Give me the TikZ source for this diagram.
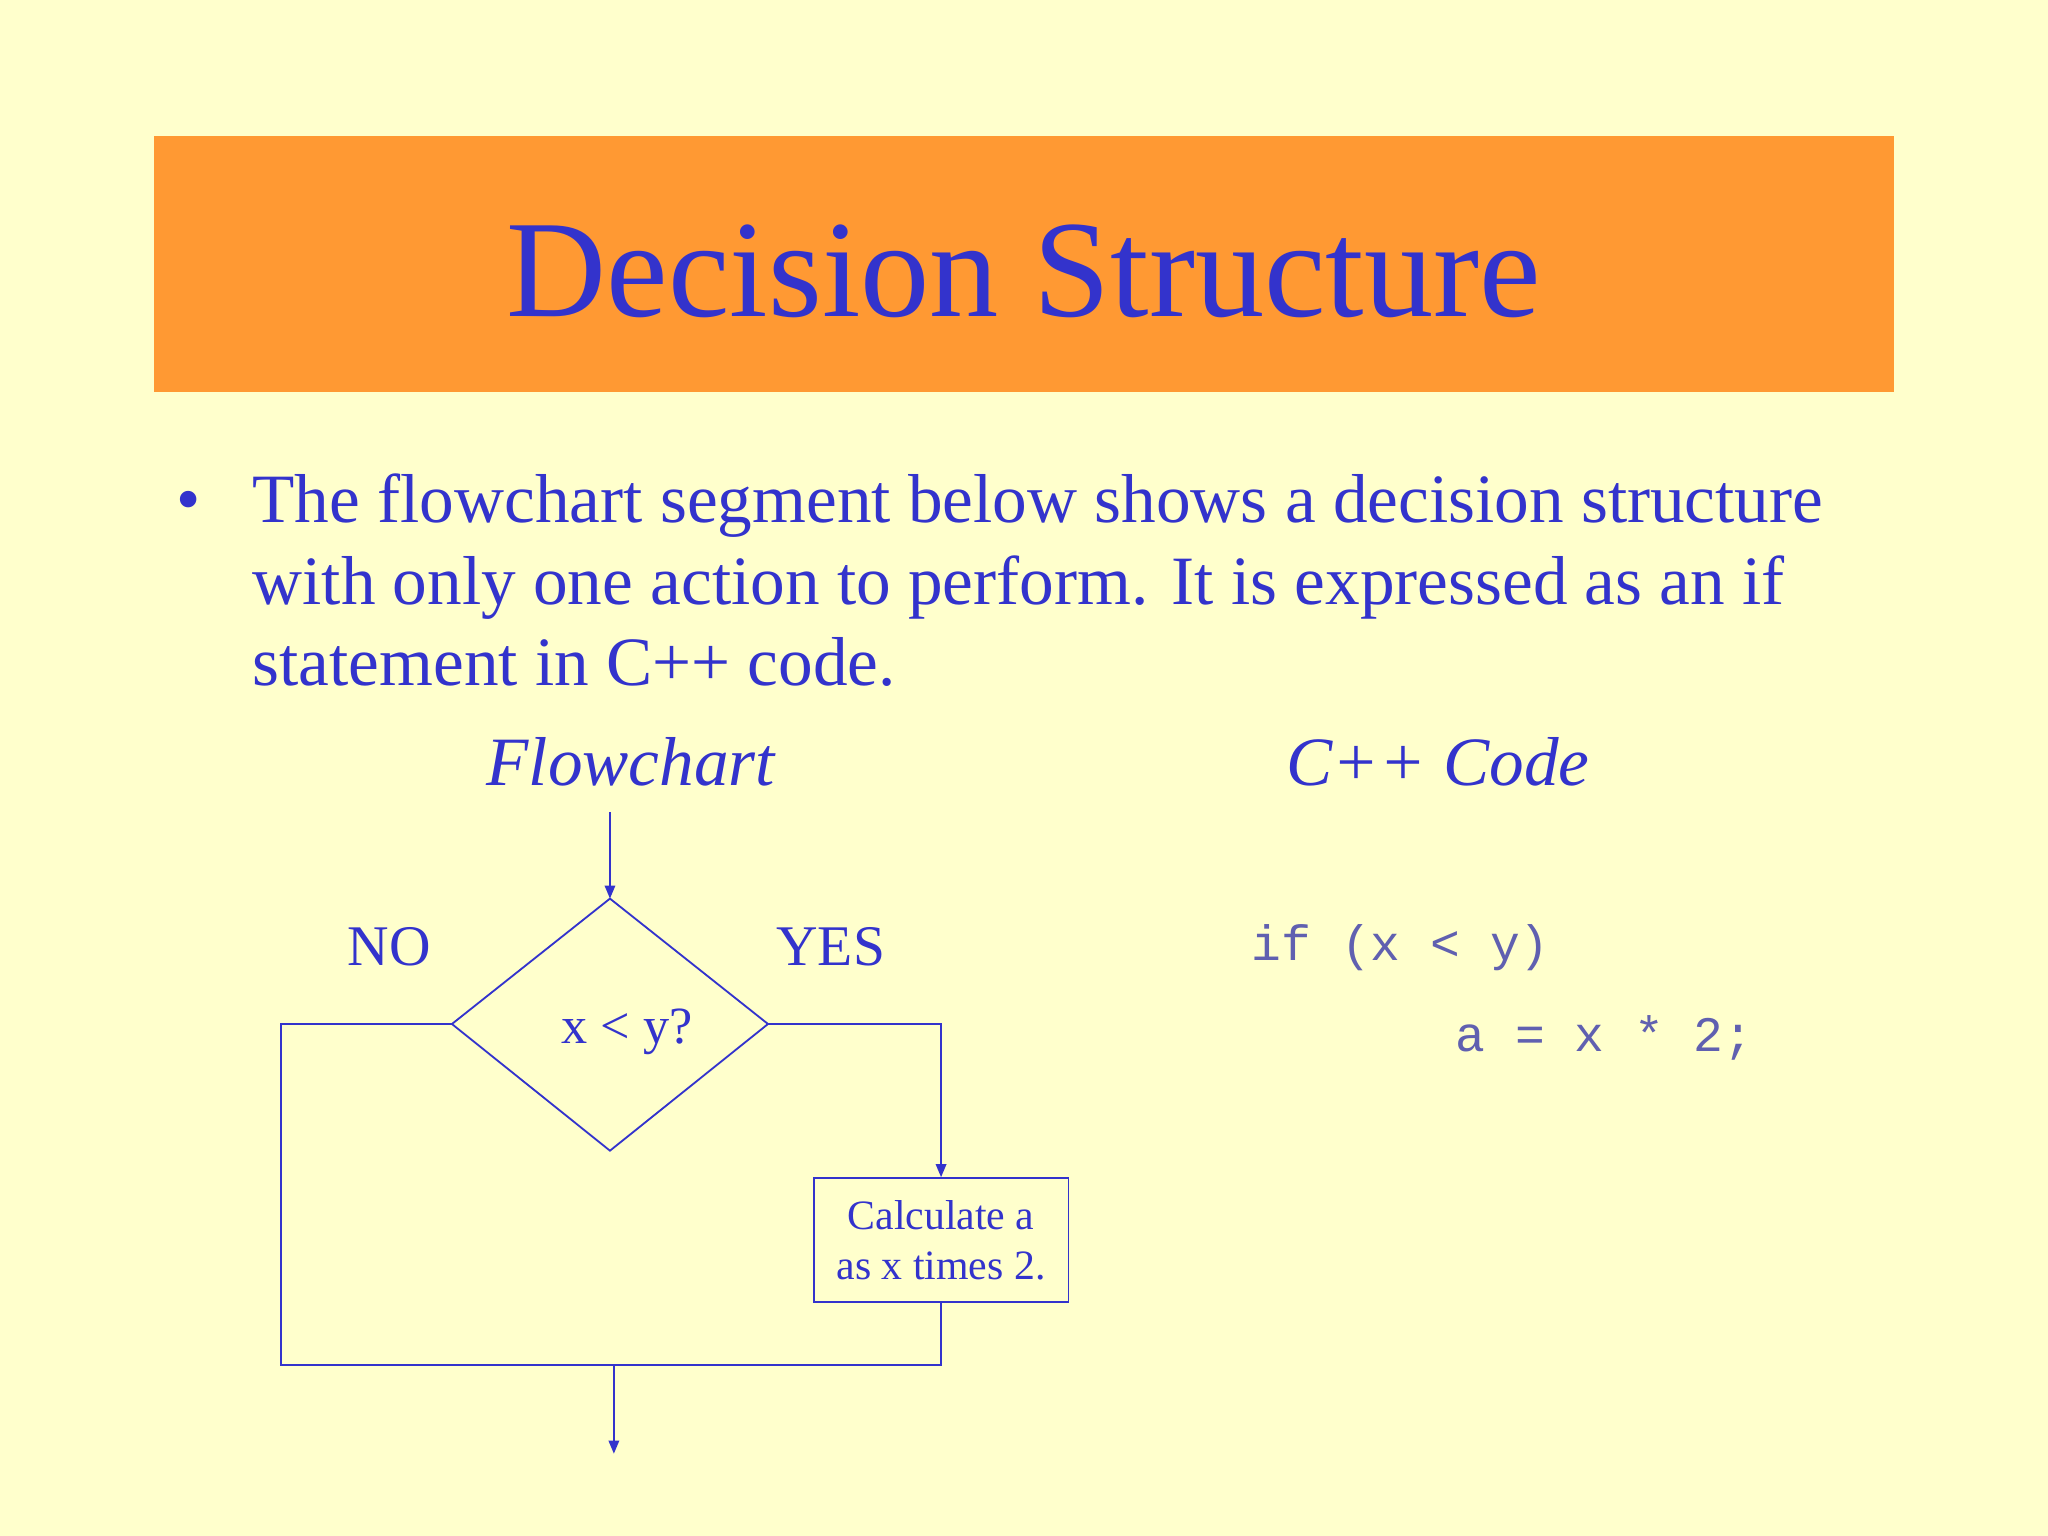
\documentclass[tikz,border=0pt]{standalone}
\usetikzlibrary{arrows.meta}
\usepackage{fontspec}
\setmainfont{Liberation Serif}
\setmonofont{Liberation Mono}
\definecolor{bg}{HTML}{FFFFCC}
\definecolor{hdr}{HTML}{FF9933}
\definecolor{ink}{HTML}{3333CC}
\definecolor{code}{HTML}{6060B0}
\begin{document}
\begin{tikzpicture}[x=0.5pt,y=-0.5pt,
  flow/.style={draw=ink,line width=0.7pt},
  arr/.style={flow,-{Triangle[length=5pt,width=4pt]}},
  body/.style={text=ink,font=\fontsize{26.5}{31}\selectfont,anchor=base west,inner sep=0},
  lbl/.style={text=ink,font=\fontsize{22}{26}\selectfont},
  cd/.style={text=code,font=\ttfamily\fontsize{19}{22}\selectfont,anchor=base west,inner sep=0}]
\fill[bg] (0,0) rectangle (1568,1176);
\useasboundingbox (0,0) rectangle (1568,1176);
\fill[hdr] (118,104) rectangle (1450,300);
\node[text=ink,font=\fontsize{53}{60}\selectfont] (title) at (784,208) {Decision Structure};
\node[body] (bul) at (135,400) {•};
\node[body] (l1) at (193,400) {The flowchart segment below shows a decision structure};
\node[body] (l2) at (193,463) {with only one action to perform. It is expressed as an if};
\node[body] (l3) at (193,525) {statement in C++ code.};
\node[text=ink,font=\itshape\fontsize{26.5}{31}\selectfont] (fc) at (483,583) {Flowchart};
\node[text=ink,font=\itshape\fontsize{26.5}{31}\selectfont] (cc) at (1101,583) {C++ Code};
% diamond
\coordinate (dt) at (467,688);
\coordinate (dl) at (346,784);
\coordinate (dr) at (588,784);
\coordinate (db) at (467,881);
\draw[flow] (dt) -- (dr) -- (db) -- (dl) -- cycle;
\node[text=ink,font=\fontsize{20}{24}\selectfont] (cond) at (480,790) {x < y?};
\coordinate (in) at (467,622);
\draw[arr] (in) -- (dt);
\node[lbl] (no) at (298,725) {NO};
\node[lbl] (yes) at (636,725) {YES};
\node[draw=ink,line width=0.7pt,minimum width=97.5pt,minimum height=47.5pt,align=center,text=ink,
  font=\fontsize{16}{19}\selectfont] (box) at (720.5,949.5) {Calculate a\\as x times 2.};
\draw[arr] (dr) -| (box.north);
\coordinate (jl) at (215,1045);
\coordinate (jm) at (470,1045);
\coordinate (out) at (470,1113);
\draw[flow] (dl) -| (jl) -- (box.south |- jl) -- (box.south);
\draw[arr] (jm) -- (out);
\node[cd] (c1) at (958,735) {if (x < y)};
\node[cd] (c2) at (1114,805) {a = x * 2;};
\end{tikzpicture}
\end{document}
